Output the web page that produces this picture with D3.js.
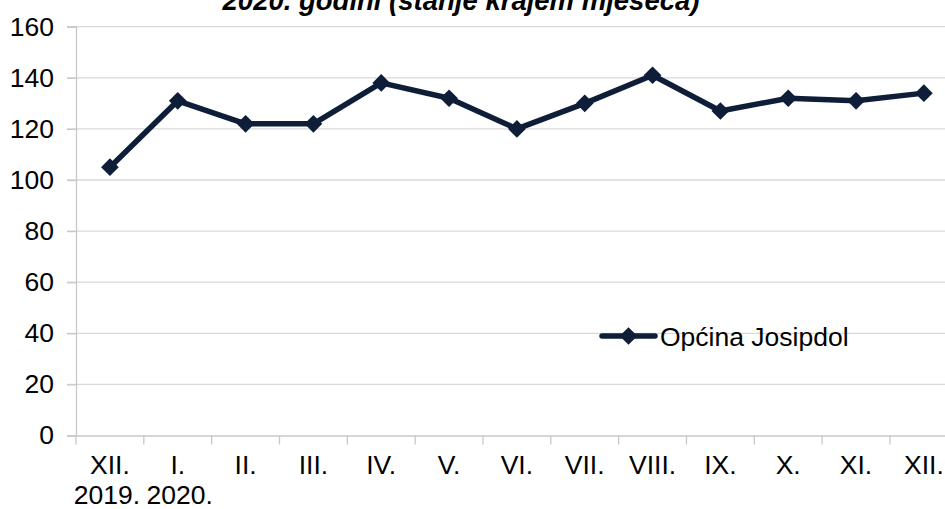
<!DOCTYPE html>
<html><head><meta charset="utf-8">
<script src="https://cdn.jsdelivr.net/npm/d3@7"></script>
<style>
html,body{margin:0;padding:0;background:#fff;}
svg{display:block;font-family:"Liberation Sans",Arial,sans-serif;}
</style></head>
<body>
<svg id="c" width="945" height="509"></svg>
<script>
const categories = ["XII.", "I.", "II.", "III.", "IV.", "V.", "VI.", "VII.", "VIII.", "IX.", "X.", "XI.", "XII. "];
const yearLabels = ["2019.", "2020.", "", "", "", "", "", "", "", "", "", "", ""];
const values = [105, 131, 122, 122, 138, 132, 120, 130, 141, 127, 132, 131, 134];
const yTicks = [0, 20, 40, 60, 80, 100, 120, 140, 160];
const seriesName = "Općina Josipdol";
const titleText = "2020. godini (stanje krajem mjeseca)";

const svg = d3.select("#c");
const color = "#0e1d38";
const fs = "26.5px";
const left = 76, step = 67.83;
const x = d3.scaleBand().domain(categories).range([left, left + step * categories.length]).padding(0);
const y = d3.scaleLinear().domain([0, 160]).range([435.5, 26.7]);
const cx = d => x(d) + x.bandwidth() / 2;

// title (cropped at top, as in the source)
svg.append("text").attr("x", 461).attr("y", 9.5).attr("text-anchor", "middle")
  .style("font-size", "27.5px").style("font-weight", "bold").style("font-style", "italic")
  .attr("fill", "#000").text(titleText);

// gridlines
svg.append("g").selectAll("line").data(yTicks.filter(d => d > 0)).join("line")
  .attr("x1", 67).attr("x2", 945)
  .attr("y1", d => y(d)).attr("y2", d => y(d))
  .attr("stroke", "#d9d9d9").attr("stroke-width", 1.3);

// y axis
const yAxis = d3.axisLeft(y).tickValues(yTicks).tickSize(9).tickPadding(13);
const gy = svg.append("g").attr("transform", `translate(${left},0)`).call(yAxis);
gy.select(".domain").attr("stroke", "#c8c8c8").attr("stroke-width", 1.3);
gy.selectAll(".tick line").attr("stroke", "#c8c8c8").attr("stroke-width", 1.3);
gy.selectAll(".tick text").style("font-size", fs).attr("fill", "#000")
  .style("font-family", "'Liberation Sans',Arial,sans-serif");

// x axis
const xAxis = d3.axisBottom(x).tickSize(0).tickFormat("");
const gx = svg.append("g").attr("transform", `translate(0,${y(0)})`).call(xAxis);
gx.select(".domain").attr("stroke", "#c8c8c8").attr("stroke-width", 1.3);
svg.append("g").selectAll("line").data(categories).join("line")
  .attr("x1", d => x(d)).attr("x2", d => x(d))
  .attr("y1", y(0)).attr("y2", y(0) + 9)
  .attr("stroke", "#c8c8c8").attr("stroke-width", 1.3);
svg.append("g").selectAll("text").data(categories).join("text")
  .attr("x", cx).attr("y", 474)
  .attr("text-anchor", "middle").style("font-size", fs).attr("fill", "#000")
  .text(d => d.trim());
// second line (years) under the first two categories
svg.append("g").selectAll("text").data(categories.filter((c, i) => yearLabels[i])).join("text")
  .attr("x", (d, i) => cx(d) + (i === 0 ? -3 : 2)).attr("y", 504)
  .attr("text-anchor", "middle").style("font-size", fs).attr("fill", "#000")
  .text((d, i) => yearLabels[i]);

// line
const pts = categories.map((c, i) => [cx(c), y(values[i])]);
svg.append("path").datum(pts)
  .attr("d", d3.line())
  .attr("fill", "none").attr("stroke", color).attr("stroke-width", 5.5).attr("stroke-linejoin", "round");
const diamond = d3.symbol().type(d3.symbolDiamond2).size(200);
svg.append("g").selectAll("path").data(pts).join("path")
  .attr("transform", d => `translate(${d[0]},${d[1]})`)
  .attr("d", diamond).attr("fill", color);

// legend
const ly = 336;
svg.append("line").attr("x1", 602).attr("x2", 655).attr("y1", ly).attr("y2", ly)
  .attr("stroke", color).attr("stroke-width", 5.5).attr("stroke-linecap", "round");
svg.append("path").attr("transform", `translate(628.5,${ly})`).attr("d", diamond).attr("fill", color);
svg.append("text").attr("x", 660).attr("y", ly + 9.5).style("font-size", fs).attr("fill", "#000").text(seriesName);
</script>
</body></html>
